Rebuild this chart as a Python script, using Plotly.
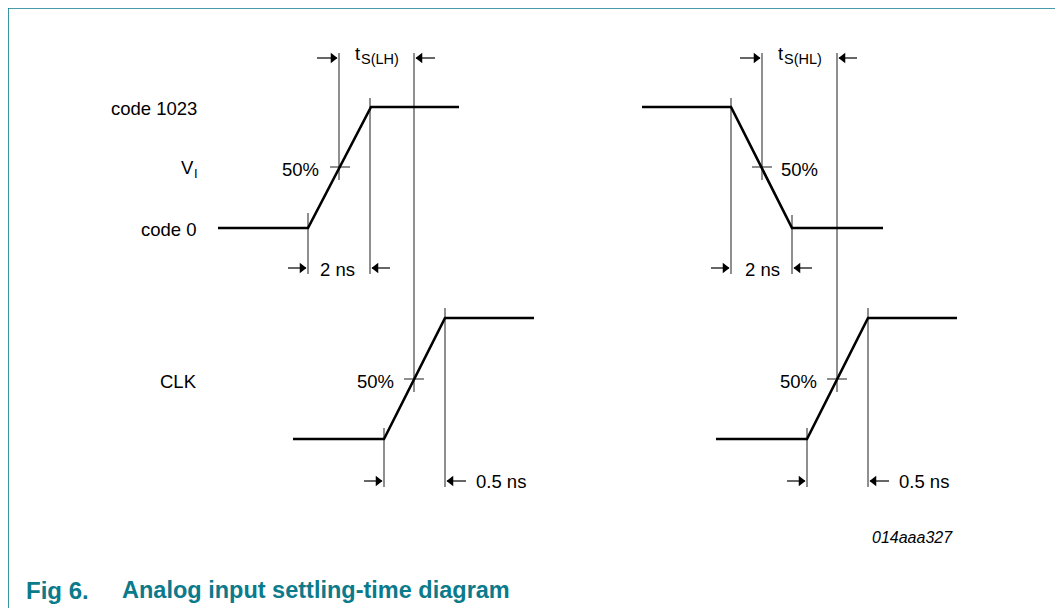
import plotly.graph_objects as go

# ---- data (diagram pixel units) ----
# VI waveform, low-to-high (left) and high-to-low (right)
vi_lh_x = [218, 308, 371, 459]
vi_lh_y = [228, 228, 107, 107]
vi_hl_x = [642, 731, 792, 883]
vi_hl_y = [107, 107, 228, 228]
# CLK waveforms
clk_l_x = [293, 384, 445, 534]
clk_l_y = [439, 439, 318, 318]
clk_r_x = [716, 807, 868, 957]
clk_r_y = [439, 439, 318, 318]

# vertical reference lines: (x, y_top, y_bottom)
ref_lines = [
    (339, 53, 180), (414, 53, 392), (308, 213, 274), (370, 98, 274),
    (384, 428, 487), (445, 308, 487),
    (762, 53, 180), (837, 53, 392), (731, 98, 274), (792, 215, 274),
    (807, 428, 487), (868, 308, 487),
]
# 50% crosshair ticks: (x_center, y)
cross = [(340, 167), (414, 379), (762, 167), (837, 379)]

# arrows: (x_tail, x_head, y)
arrows = [
    (317, 337, 58), (435, 416, 58),
    (288, 306, 268), (390, 372, 268),
    (364, 382, 481), (466, 447, 481),
    (740, 760, 58), (857, 839, 58),
    (711, 729, 268), (812, 794, 268),
    (787, 805, 481), (889, 870, 481),
]

# labels: (text, x, y, anchor, size)
labels = [
    ("code 1023", 199, 108, "right", 18.5),
    ("V", 196, 167, "right", 18.5),
    ("I", 192, 173, "left", 13),
    ("code 0", 199, 229, "right", 18.5),
    ("CLK", 199, 381, "right", 18.5),
    ("50%", 321, 169, "right", 18.5),
    ("50%", 396, 381, "right", 18.5),
    ("50%", 779, 169, "left", 18.5),
    ("50%", 819, 381, "right", 18.5),
    ("2 ns", 318, 269, "left", 18.5),
    ("2 ns", 743, 269, "left", 18.5),
    ("0.5 ns", 474, 481, "left", 18.5),
    ("0.5 ns", 897, 481, "left", 18.5),
    ("t", 353, 53, "left", 18.5),
    ("S(LH)", 359, 59, "left", 14.5),
    ("t", 776, 53, "left", 18.5),
    ("S(HL)", 782, 59, "left", 14.5),
]

TEAL = "#0B7A8B"
FONT = "Liberation Sans, Arial, sans-serif"

fig = go.Figure()

# gray reference lines
rx, ry = [], []
for x, y0, y1 in ref_lines:
    rx += [x, x, None]
    ry += [y0, y1, None]
for x, y in cross:
    rx += [x - 10, x + 10, None]
    ry += [y, y, None]
fig.add_trace(go.Scatter(x=rx, y=ry, mode="lines",
                         line=dict(color="#333333", width=1.1),
                         hoverinfo="skip", showlegend=False))

for xs, ys in [(vi_lh_x, vi_lh_y), (vi_hl_x, vi_hl_y),
               (clk_l_x, clk_l_y), (clk_r_x, clk_r_y)]:
    fig.add_trace(go.Scatter(x=xs, y=ys, mode="lines",
                             line=dict(color="black", width=2.6),
                             hoverinfo="skip", showlegend=False))

# arrows: shaft lines + triangular heads
ax_, ay_ = [], []
hr_x, hr_y, hl_x, hl_y = [], [], [], []
for xt, xh, y in arrows:
    ax_ += [xt, xh, None]
    ay_ += [y, y, None]
    if xh > xt:
        hr_x.append(xh - 4)
        hr_y.append(y)
    else:
        hl_x.append(xh + 4)
        hl_y.append(y)
fig.add_trace(go.Scatter(x=ax_, y=ay_, mode="lines",
                         line=dict(color="black", width=1.2),
                         hoverinfo="skip", showlegend=False))
fig.add_trace(go.Scatter(x=hr_x, y=hr_y, mode="markers",
                         marker=dict(symbol="triangle-right", size=9, color="black",
                                     line=dict(width=0)),
                         hoverinfo="skip", showlegend=False))
fig.add_trace(go.Scatter(x=hl_x, y=hl_y, mode="markers",
                         marker=dict(symbol="triangle-left", size=9, color="black",
                                     line=dict(width=0)),
                         hoverinfo="skip", showlegend=False))

for t, x, y, anc, sz in labels:
    fig.add_annotation(x=x, y=y, text=t, showarrow=False, xanchor=anc,
                       yanchor="middle", font=dict(family=FONT, size=sz, color="black"))

fig.add_annotation(x=955, y=537, text="<i>014aaa327</i>", showarrow=False,
                   xanchor="right", yanchor="middle",
                   font=dict(family=FONT, size=16, color="black"))
fig.add_annotation(x=24, y=590, text="<b>Fig 6.</b>", showarrow=False,
                   xanchor="left", yanchor="middle",
                   font=dict(family=FONT, size=24, color=TEAL))
fig.add_annotation(x=120, y=590, text="<b>Analog input settling-time diagram</b>", showarrow=False,
                   xanchor="left", yanchor="middle",
                   font=dict(family=FONT, size=23.5, color=TEAL))

# frame
for x0, y0, x1, y1 in [(8, 8, 1061, 8), (8, 8, 8, 608), (1061, 8, 1061, 608)]:
    fig.add_shape(type="line", x0=x0, y0=y0, x1=x1, y1=y1, xref="x", yref="y",
                  line=dict(color=TEAL, width=1.6))

# the page body has an 8px margin, so the plot starts at (8, 8)
fig.update_layout(width=1055, height=600, margin=dict(l=0, r=0, t=0, b=0),
                  plot_bgcolor="white", paper_bgcolor="white",
                  xaxis=dict(range=[8, 1063], visible=False, fixedrange=True),
                  yaxis=dict(range=[608, 8], visible=False, fixedrange=True))

fig.write_html("out.html", config={"displayModeBar": False})
